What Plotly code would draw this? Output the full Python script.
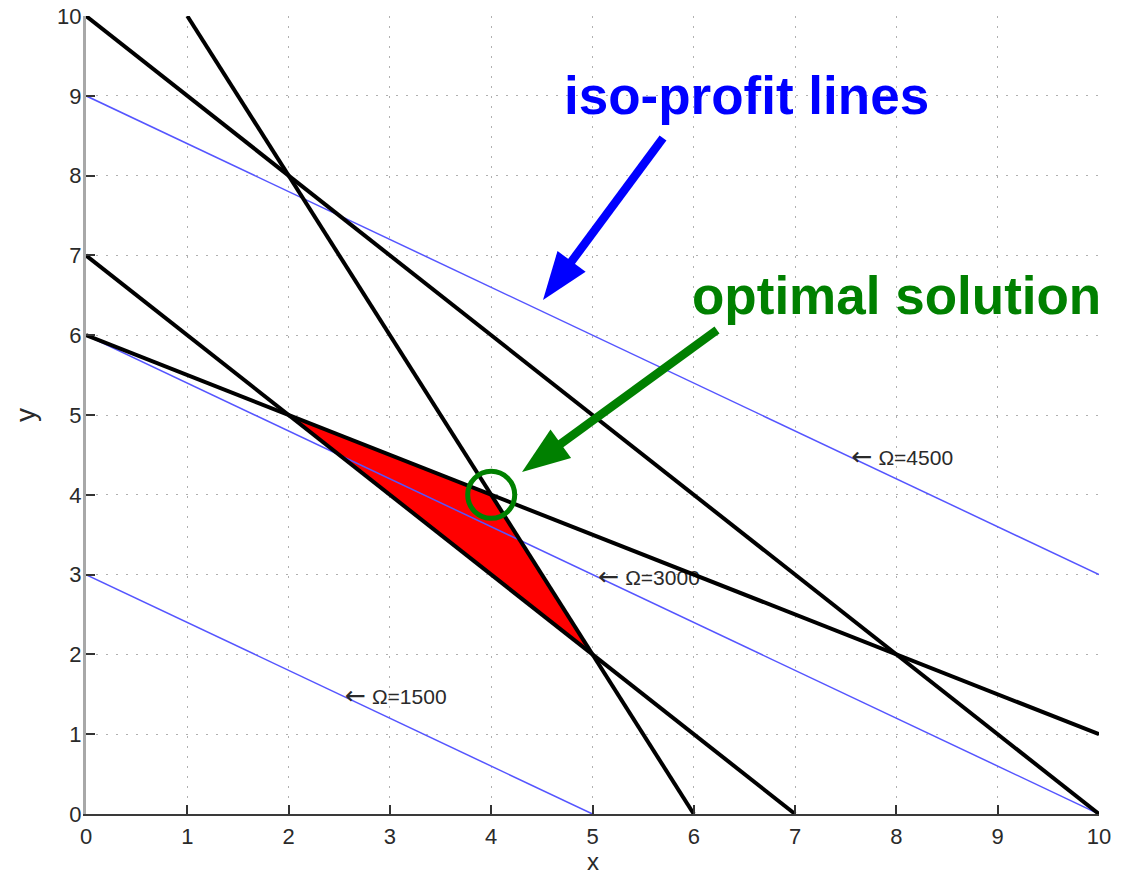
import plotly.graph_objects as go

# ---------------- data ----------------
# constraint lines (end points)
con_x = [[0, 10], [1, 6], [0, 7], [0, 10]]
con_y = [[10, 0], [10, 0], [7, 0], [6, 1]]

# iso-profit lines (end points)
iso_x = [[0, 5], [0, 10], [0, 10]]
iso_y = [[3, 0], [6, 0], [9, 3]]
iso_values = ["1500", "3000", "4500"]
iso_label_x = [2.5, 5.0, 7.5]
iso_label_y = [1.44, 2.94, 4.44]

# feasible region
feas_x = [2, 4, 5]
feas_y = [5, 4, 2]

# optimum
opt_x, opt_y = 4, 4

tick_vals = list(range(0, 11))
tick_text = [str(v) for v in tick_vals]

# ---------------- layout geometry ----------------
W, H = 1123, 878
L, R, T, B = 86, 1099, 16, 814
SX = (R - L) / 10.0
SY = (B - T) / 10.0
FONT = "Liberation Sans, Arial, Helvetica, sans-serif"


def to_px(x, y):
    return L + x * SX, B - y * SY


def to_data(px, py):
    return (px - L) / SX, (B - py) / SY


def arrow_shapes(tail, tip, color, width=8.5, head_len=48, head_half=17.5):
    tx, ty = to_px(*tail)
    hx, hy = to_px(*tip)
    dx, dy = hx - tx, hy - ty
    n = (dx * dx + dy * dy) ** 0.5
    dx, dy = dx / n, dy / n
    bx, by = hx - dx * head_len, hy - dy * head_len
    nx, ny = -dy, dx
    c1 = to_data(bx + nx * head_half, by + ny * head_half)
    c2 = to_data(bx - nx * head_half, by - ny * head_half)
    lend = to_data(bx + dx * 3, by + dy * 3)
    line = dict(type="line", xref="x", yref="y", x0=tail[0], y0=tail[1],
                x1=lend[0], y1=lend[1], line=dict(color=color, width=width))
    head = dict(type="path", xref="x", yref="y",
                path=f"M{tip[0]},{tip[1]} L{c1[0]},{c1[1]} L{c2[0]},{c2[1]} Z",
                fillcolor=color, line=dict(color=color, width=0))
    return [line, head]


fig = go.Figure()

# feasible region (red)
fig.add_trace(go.Scatter(x=feas_x + [feas_x[0]], y=feas_y + [feas_y[0]],
                         mode="lines", fill="toself", fillcolor="#ff0000",
                         line=dict(color="#ff0000", width=0),
                         hoverinfo="skip", showlegend=False))

# iso-profit lines
for xs, ys in zip(iso_x, iso_y):
    fig.add_trace(go.Scatter(x=xs, y=ys, mode="lines",
                             line=dict(color="#5555ff", width=1.5),
                             hoverinfo="skip", showlegend=False))

# iso-profit labels
label_text = ["\u00a0<span style='font-family:DejaVu Sans;font-size:25px'>\u2190</span> \u03a9=" + v
              for v in iso_values]
fig.add_trace(go.Scatter(x=iso_label_x, y=iso_label_y, mode="text",
                         text=label_text, textposition="middle right",
                         textfont=dict(family=FONT, size=21, color="#2a2a2a"),
                         hoverinfo="skip", showlegend=False))

# constraint lines
for xs, ys in zip(con_x, con_y):
    fig.add_trace(go.Scatter(x=xs, y=ys, mode="lines",
                             line=dict(color="#000000", width=4),
                             hoverinfo="skip", showlegend=False))

shapes = []
r_px = 23.5
shapes.append(dict(type="circle", xref="x", yref="y",
                   x0=opt_x - r_px / SX, x1=opt_x + r_px / SX,
                   y0=opt_y - r_px / SY, y1=opt_y + r_px / SY,
                   line=dict(color="#008000", width=5)))

# annotation arrows
blue_tail, blue_tip = to_data(663, 138), to_data(543, 300)
green_tail, green_tip = to_data(717, 330), to_data(522, 472)
shapes += arrow_shapes(blue_tail, blue_tip, "#0000ff")
shapes += arrow_shapes(green_tail, green_tip, "#008000")

annotations = [
    dict(x=4.70, y=9.01, xref="x", yref="y", text="<b>iso-profit lines</b>",
         showarrow=False, xanchor="left", yanchor="middle",
         font=dict(family=FONT, size=53, color="#0000ff")),
    dict(x=5.96, y=6.50, xref="x", yref="y", text="<b>optimal solution</b>",
         showarrow=False, xanchor="left", yanchor="middle",
         font=dict(family=FONT, size=53, color="#008000")),
    # x-axis title
    dict(x=0.5, y=(B - 877) / (B - T), xref="paper", yref="paper", text="x",
         showarrow=False, xanchor="center", yanchor="bottom",
         font=dict(family=FONT, size=24, color="#2a2a2a")),
]

axis_common = dict(range=[0, 10], tickvals=tick_vals, ticktext=tick_text,
                   showgrid=True, gridcolor="#b0b0b0", griddash="2px,8px",
                   gridwidth=1, zeroline=False, showline=True,
                   ticks="inside", ticklen=9, tickwidth=1.5, tickcolor="#333333",
                   tickfont=dict(family=FONT, size=22, color="#2a2a2a"),
                   mirror=False, fixedrange=True, automargin=False)

fig.update_layout(
    width=W, height=H,
    margin=dict(l=L, r=W - R, t=T, b=H - B),
    paper_bgcolor="white", plot_bgcolor="white",
    xaxis=dict(**axis_common, linecolor="#3a3a3a", linewidth=2,
               ticklabelstandoff=2),
    yaxis=dict(**axis_common, linecolor="#a8a8a8", linewidth=3,
               ticklabelstandoff=-3,
               title=dict(text="y", font=dict(family=FONT, size=28, color="#2a2a2a"),
                          standoff=14)),
    shapes=shapes,
    annotations=annotations,
    showlegend=False,
)

fig.write_html(
    "out.html",
    config={"displayModeBar": False},
    post_script="document.body.style.margin='0';document.body.style.overflow='hidden';",
)
